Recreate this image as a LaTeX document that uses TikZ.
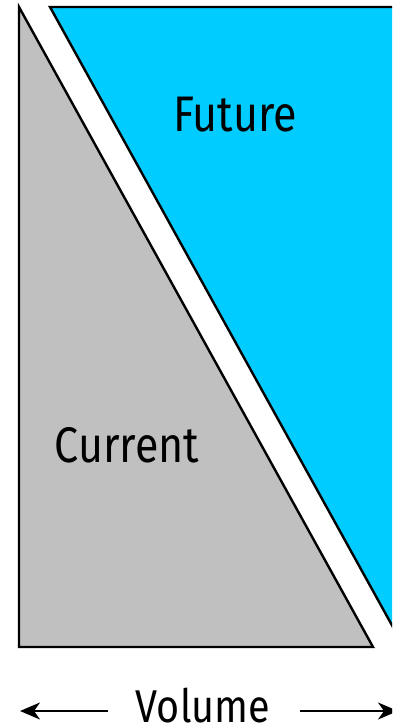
\documentclass[tikz,border=0pt]{standalone}
\usepackage{fontspec}
\setmainfont[FakeStretch=0.86]{Fira Sans}
\usetikzlibrary{arrows.meta}
\definecolor{futureblue}{HTML}{00CCFF}
\definecolor{currentgray}{HTML}{C0C0C0}
\tikzset{
  region/.style={draw=black, line width=2.4pt, line join=miter},
  lbl/.style={anchor=base, inner sep=0pt, font=\fontsize{50}{60}\selectfont},
  axisarrow/.style={line width=2pt, -{Stealth[length=20pt,width=17pt,inset=6pt]}}
}
\begin{document}
\begin{tikzpicture}[x=1pt,y=1pt]
\useasboundingbox (0,0) rectangle (392,727);
\clip (0,0) rectangle (392,727);
\fill[white] (0,0) rectangle (392,727);
\draw[region, fill=currentgray] (19,720) -- (19,80) -- (373,80) -- cycle;
\draw[region, fill=futureblue] (50,720) -- (400,87.2) -- (404,720) -- cycle;
\node[lbl] (future) at (235,595) {Future};
\node[lbl] (current) at (127,264) {Current};
\node[lbl, font=\fontsize{46}{55}\selectfont] (volume) at (203,5) {Volume};
\coordinate (lend) at (20,16);
\coordinate (rend) at (398,16);
\coordinate (lstart) at (108,16);
\coordinate (rstart) at (300,16);
\draw[axisarrow] (lstart) -- (lend);
\draw[axisarrow] (rstart) -- (rend);
\end{tikzpicture}
\end{document}
